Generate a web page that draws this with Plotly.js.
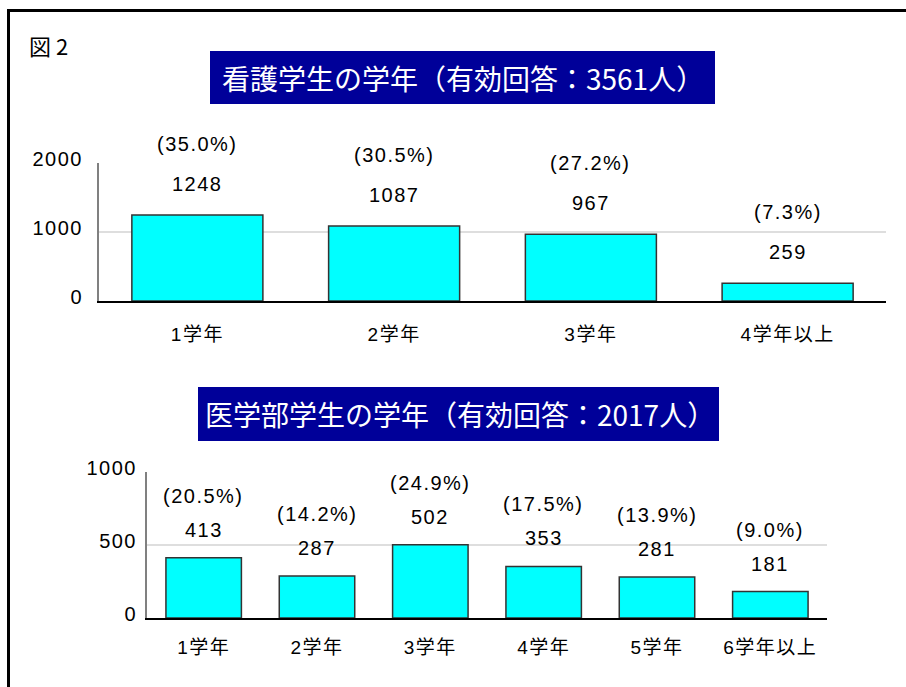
<!DOCTYPE html>
<html>
<head>
<meta charset="utf-8">
<script src="https://cdn.plot.ly/plotly-3.0.1.min.js"></script>
<style>
  html, body { margin: 0; padding: 0; background: #fff; }
  #chart { width: 906px; height: 687px; }
  text[style*="Liberation Sans"] { letter-spacing: 1.5px; }
</style>
</head>
<body>
<div id="chart"></div>
<script>
// ---- data ----
const nurseCats = ['1学年', '2学年', '3学年', '4学年以上'];
const nurseCounts = [1248, 1087, 967, 259];
const nursePct = ['(35.0%)', '(30.5%)', '(27.2%)', '(7.3%)'];

const medCats = ['1学年', '2学年', '3学年', '4学年', '5学年', '6学年以上'];
const medCounts = [413, 287, 502, 353, 281, 181];
const medPct = ['(20.5%)', '(14.2%)', '(24.9%)', '(17.5%)', '(13.9%)', '(9.0%)'];

const figLabel = '図 2';
const nurseTitle = '看護学生の学年（有効回答：3561人）';
const medTitle = '医学部学生の学年（有効回答：2017人）';

// ---- layout helpers (pixel -> paper) ----
const W = 906, H = 687;
const px = v => v / W;
const py = v => 1 - v / H;

const FONT = 'Liberation Sans, Arial, "Noto Sans CJK JP", sans-serif';
const CJK = '"Noto Sans CJK JP", "Noto Sans CJK SC", sans-serif';
const barColor = '#00FFFF';

const traces = [
  {
    type: 'bar', x: nurseCats, y: nurseCounts, xaxis: 'x', yaxis: 'y',
    marker: { color: barColor, line: { color: '#333333', width: 1.5 } },
    hoverinfo: 'skip', showlegend: false
  },
  {
    type: 'bar', x: medCats, y: medCounts, xaxis: 'x2', yaxis: 'y2',
    marker: { color: barColor, line: { color: '#333333', width: 1.5 } },
    hoverinfo: 'skip', showlegend: false
  }
];

const annotations = [];
function addLabels(cats, vals, pcts, xr, yr, s1, s2) {
  cats.forEach((c, i) => {
    annotations.push({ x: c, y: vals[i], xref: xr, yref: yr, text: String(vals[i]),
      showarrow: false, yanchor: 'middle', yshift: s1,
      font: { family: FONT, size: 20, color: '#000' } });
    annotations.push({ x: c, y: vals[i], xref: xr, yref: yr, text: pcts[i],
      showarrow: false, yanchor: 'middle', yshift: s2,
      font: { family: FONT, size: 20, color: '#000' } });
  });
}
addLabels(nurseCats, nurseCounts, nursePct, 'x', 'y', 31, 71);
addLabels(medCats, medCounts, medPct, 'x2', 'y2', 28, 62);

// titles
annotations.push({ xref: 'paper', yref: 'paper', x: px(462.5), y: py(77.5),
  text: nurseTitle, showarrow: false, xanchor: 'center', yanchor: 'middle',
  font: { family: CJK, size: 28, color: '#FFFFFF' } });
annotations.push({ xref: 'paper', yref: 'paper', x: px(460), y: py(414),
  text: medTitle, showarrow: false, xanchor: 'center', yanchor: 'middle',
  font: { family: CJK, size: 28, color: '#FFFFFF' } });
annotations.push({ xref: 'paper', yref: 'paper', x: px(27), y: py(45),
  text: figLabel, showarrow: false, xanchor: 'left', yanchor: 'middle',
  font: { family: CJK, size: 22, color: '#000000' } });

const shapes = [
  { type: 'rect', xref: 'paper', yref: 'paper', x0: px(8.5), x1: px(930), y0: py(10.5), y1: py(720),
    line: { color: '#000', width: 3 }, fillcolor: 'rgba(0,0,0,0)', layer: 'below' },
  { type: 'rect', xref: 'paper', yref: 'paper', x0: px(210), x1: px(715), y0: py(51), y1: py(104),
    line: { width: 0 }, fillcolor: '#000099', layer: 'below' },
  { type: 'rect', xref: 'paper', yref: 'paper', x0: px(198), x1: px(719), y0: py(387), y1: py(441),
    line: { width: 0 }, fillcolor: '#000099', layer: 'below' }
];

const xCommon = {
  showline: true, linecolor: '#000', linewidth: 1.5, ticks: '', showgrid: false,
  tickfont: { family: FONT, size: 19, color: '#000' }, fixedrange: true, zeroline: false
};
const yCommon = {
  showline: true, linecolor: '#808080', linewidth: 2, ticks: '', showgrid: true,
  gridcolor: '#dedede', gridwidth: 1.5, zeroline: false,
  tickfont: { family: FONT, size: 20, color: '#000' }, fixedrange: true, ticklabelshift: -4
};

const layout = {
  width: W, height: H,
  margin: { l: 0, r: 0, t: 0, b: 0 },
  paper_bgcolor: '#fff', plot_bgcolor: '#fff',
  showlegend: false,
  bargap: 0.334,
  xaxis: Object.assign({}, xCommon, { domain: [px(99), px(886)], anchor: 'y', ticklabelstandoff: 16 }),
  yaxis: Object.assign({}, yCommon, { domain: [py(301), py(163)], anchor: 'x', range: [0, 2000],
    tickvals: [0, 1000, 2000], ticklabelstandoff: 10 }),
  xaxis2: Object.assign({}, xCommon, { domain: [px(147), px(827)], anchor: 'y2', ticklabelstandoff: 12 }),
  yaxis2: Object.assign({}, yCommon, { domain: [py(618), py(472)], anchor: 'x2', range: [0, 1000],
    tickvals: [0, 500, 1000], ticklabelstandoff: 4 }),
  annotations: annotations,
  shapes: shapes
};

Plotly.newPlot('chart', traces, layout, { staticPlot: true, displayModeBar: false });
</script>
</body>
</html>
